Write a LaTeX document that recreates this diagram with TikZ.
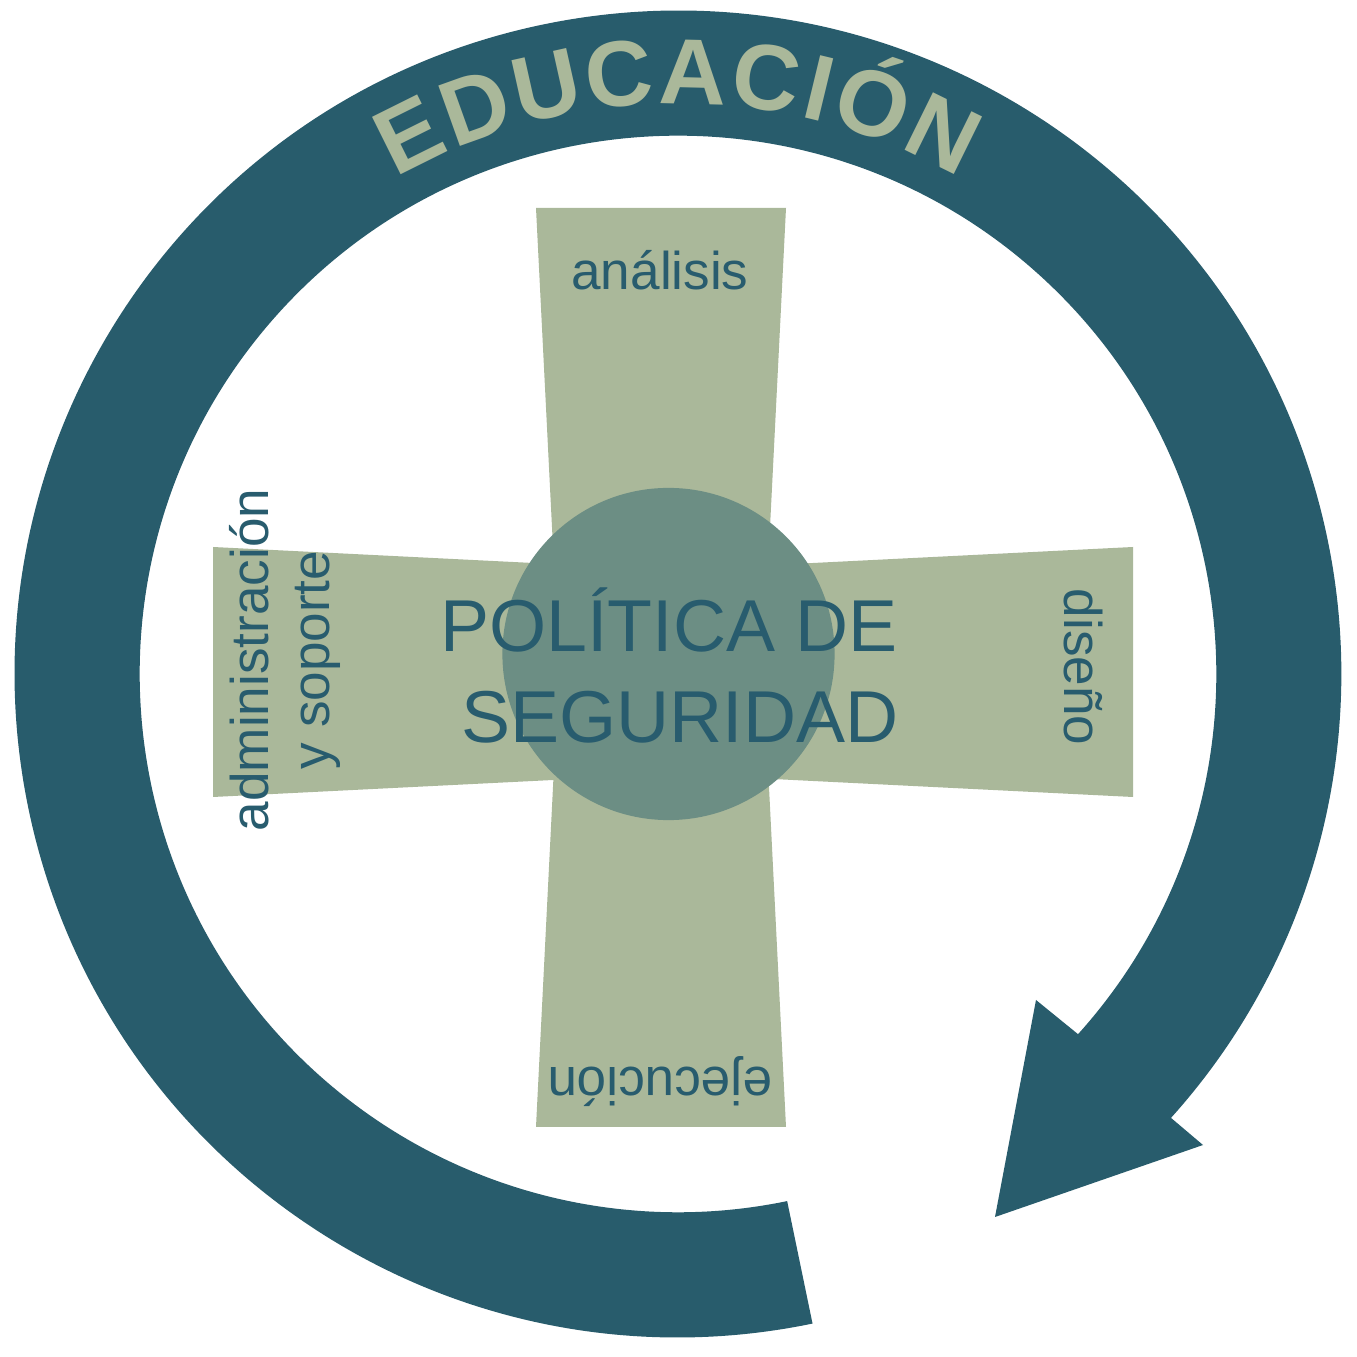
\documentclass[tikz,border=0pt]{standalone}
\usepackage{fontspec}
\setmainfont{Liberation Sans}
\usetikzlibrary{calc}
\definecolor{ringc}{RGB}{40,92,108}
\definecolor{sage}{RGB}{170,184,154}
\definecolor{hubc}{RGB}{108,142,132}
\definecolor{labc}{RGB}{40,92,110}
\tikzset{
  label15/.style={font=\fontsize{15.1}{17.4}\selectfont, text=labc, inner sep=0pt},
  bigtxt/.style={font=\fontsize{20.9}{25}\selectfont, text=labc, inner sep=0pt, anchor=base},
  edul/.style={font=\fontsize{26.5}{30}\selectfont\bfseries, text=sage, inner sep=0pt, anchor=base}
}
\begin{document}
\begin{tikzpicture}[x=0.01cm,y=0.01cm]
\useasboundingbox (0,0) rectangle (1357,1357);
\fill[white] (0,0) rectangle (1357,1357);
\coordinate (c) at (678,683);
% ring with arrow
\fill[ringc] ([shift={(-78.3:6.63cm)}]c) arc[start angle=-78.3, end angle=-402, radius=6.63cm]
  -- (1203,212) -- (995,140) -- (1036,357)
  -- ([shift={(-402:5.38cm)}]c) arc[start angle=-402, end angle=-78.3, radius=5.38cm] -- cycle;
% cross
\fill[sage] (536,1149) -- (786,1149) -- (763,690) -- (786,230) -- (536,230) -- (559,690) -- cycle;
\fill[sage] (213,810) -- (673,787) -- (1133,810) -- (1133,560) -- (673,583) -- (213,560) -- cycle;
% hub
\fill[hubc] (668.5,703) circle[radius=1.66cm];
% letters
\foreach \l/\a [count=\i] in {E/116.47, D/109.66, U/102.62, C/95.59, A/88.55, C/81.51, I/76.40, Ó/71.05, N/63.77}{
  \node[edul, rotate=\a-90] (edu\i) at ([shift={(\a:5.70cm)}]c) {\l};
}
% labels
\node[label15, anchor=base] (ana) at (660,1067) {análisis};
\node[label15, anchor=base, rotate=180] (eje) at (660,289) {ejecución};
\node[label15, anchor=base, rotate=-90] (dis) at (1064,690) {diseño};
\node[label15, align=center, rotate=90] (adm) at (285,697) {administración\\y soporte};
\node[bigtxt] (pol1) at (669,705) {POLÍTICA DE};
\node[bigtxt] (pol2) at (680,614) {SEGURIDAD};
\end{tikzpicture}
\end{document}
